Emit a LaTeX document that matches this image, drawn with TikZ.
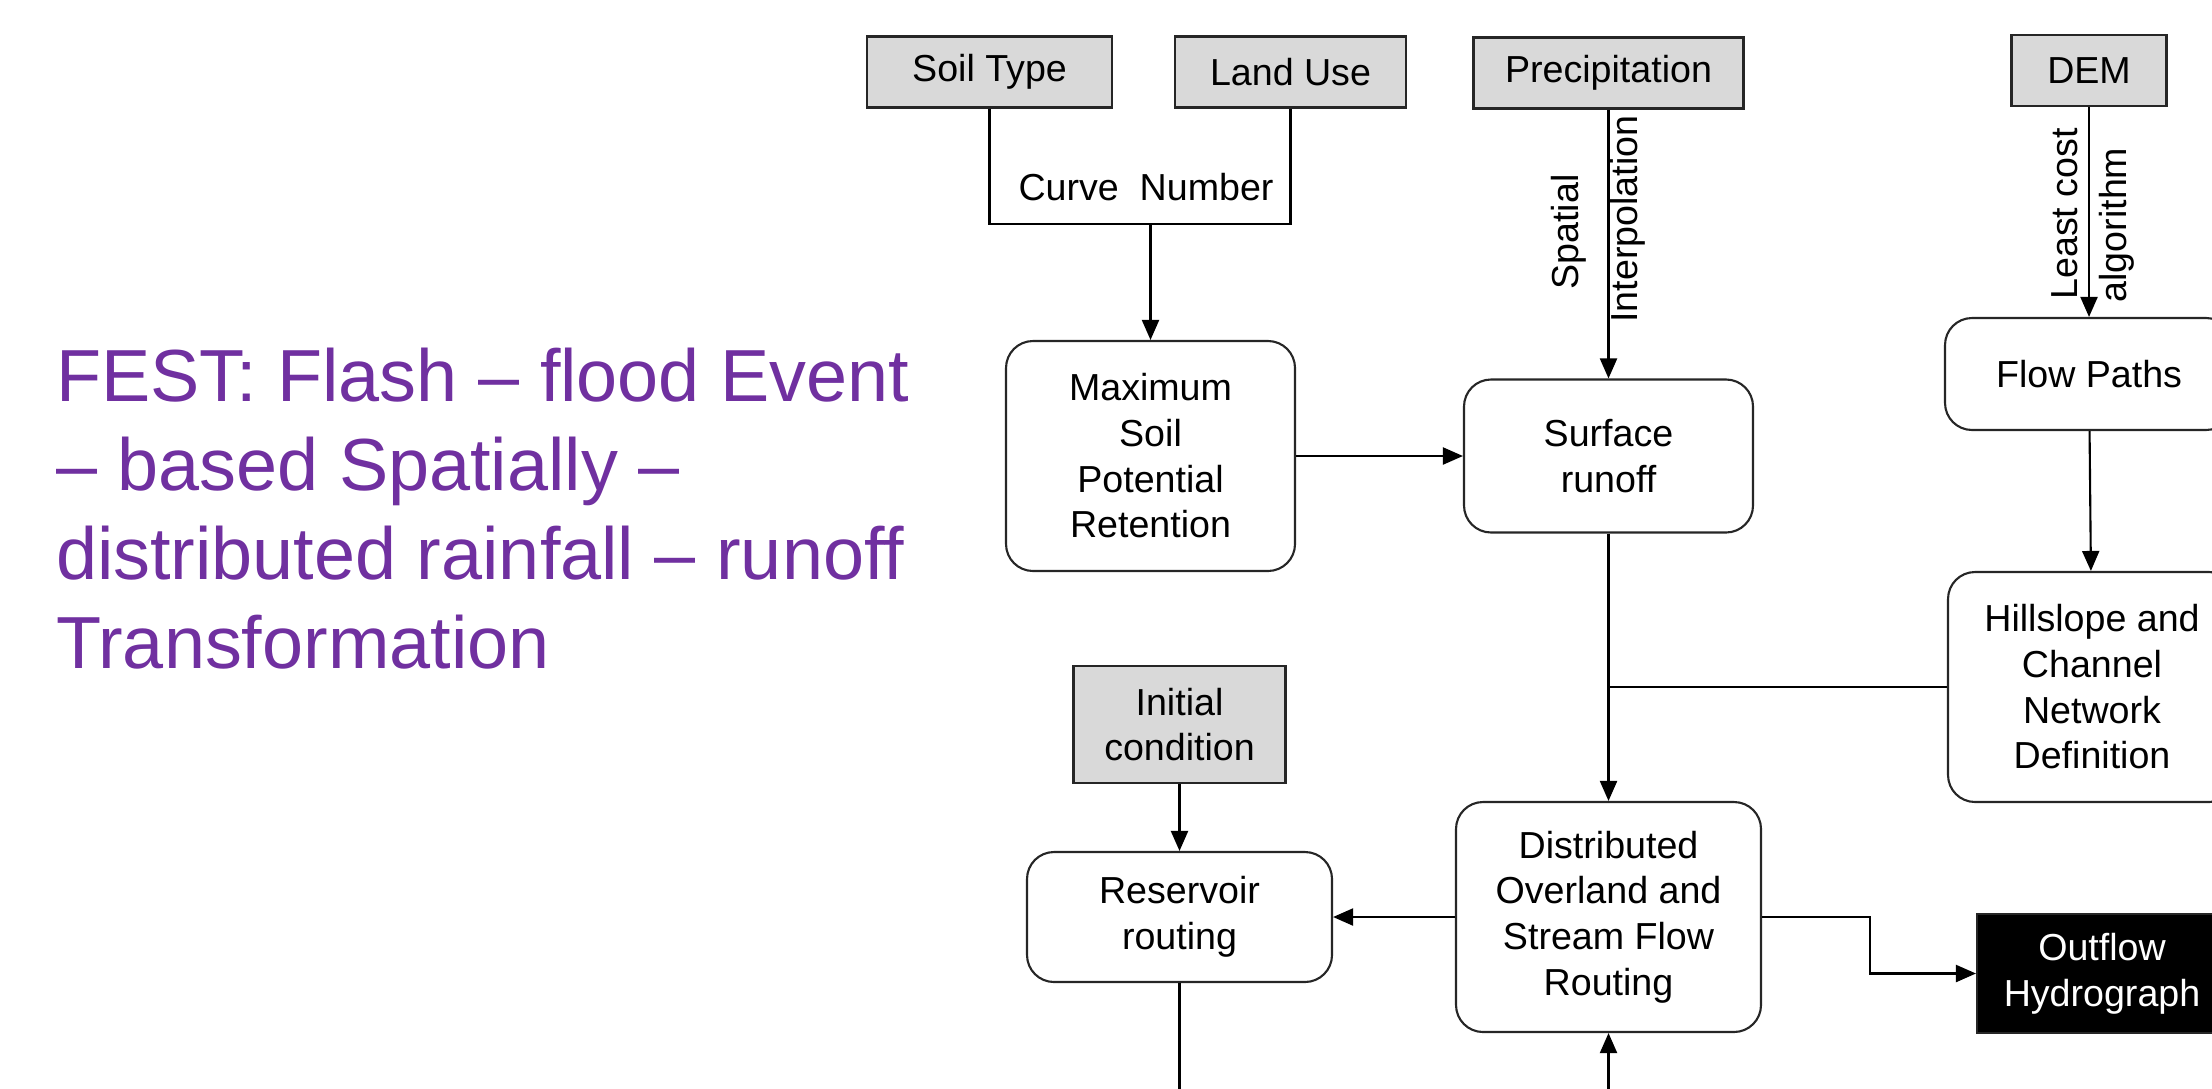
\documentclass[tikz,border=0pt]{standalone}
\usepackage{fontspec}
\setmainfont{Liberation Sans}
\usetikzlibrary{arrows.meta,positioning}
\definecolor{TitlePurple}{HTML}{7030A0}
\definecolor{InputGray}{HTML}{D9D9D9}

\begin{document}
\begin{tikzpicture}[
    font=\fontsize{10.7}{13}\selectfont,
    line width=0.6pt,
    box/.style={draw=black!85, align=center, inner sep=2pt},
    input/.style={box, fill=InputGray, minimum height=0.71cm},
    proc/.style={box, rounded corners=0.27cm, fill=white},
    result/.style={box, fill=black, text=white},
    lbl/.style={inner sep=0pt},
    >={Triangle[length=2.0mm,width=1.7mm]}
  ]
  \clip (0,0) rectangle (22.12,-10.88);

  % Title
  \node[anchor=north west, align=left, inner sep=0pt, text=TitlePurple,
        font=\fontsize{21}{25.3}\selectfont] (title) at (0.55,-3.47)
  {FEST: Flash – flood Event\\– based Spatially –\\distributed rainfall – runoff\\Transformation};

  % Input data
  \node[input, minimum width=2.45cm] (soil) at (9.895,-0.72) {Soil Type};
  \node[input, minimum width=2.31cm] (land) at (12.905,-0.72) {Land Use};
  \node[input, minimum width=2.70cm] (precip) at (16.085,-0.73) {Precipitation};
  \node[input, minimum width=1.55cm] (dem) at (20.89,-0.705) {DEM};

  % Processing steps
  \node[proc, minimum width=2.89cm, minimum height=2.30cm] (retention) at (11.505,-4.56)
  {Maximum\\Soil\\Potential\\Retention};
  \node[proc, minimum width=2.89cm, minimum height=1.53cm] (runoff) at (16.085,-4.56)
  {Surface\\runoff};
  \node[proc, minimum width=2.88cm, minimum height=1.12cm] (paths) at (20.89,-3.74) {Flow Paths};
  \node[proc, minimum width=2.88cm, minimum height=2.30cm] (network) at (20.92,-6.87)
  {Hillslope and\\Channel\\Network\\Definition};
  \node[input, minimum width=2.12cm, minimum height=1.17cm] (initial) at (11.795,-7.245)
  {Initial\\condition};
  \node[proc, minimum width=3.05cm, minimum height=1.30cm] (reservoir) at (11.795,-9.17)
  {Reservoir\\routing};
  \node[proc, minimum width=3.05cm, minimum height=2.30cm] (routing) at (16.085,-9.17)
  {Distributed\\Overland and\\Stream Flow\\Routing};
  \node[result, minimum width=2.50cm, minimum height=1.19cm] (outflow) at (21.02,-9.735)
  {Outflow\\Hydrograph};

  % Curve number bracket
  \coordinate (cn) at (11.505,-2.24);
  \draw (soil.south) |- (cn) -| (land.south);
  \draw[->] (cn) -- (retention.north);
  \node[lbl, anchor=base] (cnlabel) at (11.46,-2.00) {Curve\ \ Number};

  % Arrow labels
  \node[lbl, rotate=90] (spatial) at (15.69,-2.32) {Spatial};
  \node[lbl, rotate=90] (interp) at (16.28,-2.19) {Interpolation};
  \node[lbl, rotate=90] (leastcost) at (20.65,-2.14) {Least cost};
  \node[lbl, rotate=90] (algo) at (21.17,-2.25) {algorithm};

  % Connectors
  \draw[->] (precip) -- (runoff);
  \draw[->] (dem) -- (paths);
  \draw[->] (paths) -- (network);
  \draw[->] (retention) -- (runoff);
  \draw[->] (runoff) -- (routing);
  \coordinate (join) at (runoff.south |- network.west);
  \draw (network.west) -- (join);
  \draw[->] (initial) -- (reservoir);
  \draw[->] (routing) -- (reservoir);
  \coordinate (bend) at (18.70,-9.735);
  \draw[->] (routing.east) -| (bend) -- (outflow.west);
  \coordinate (resout) at (11.795,-11.2);
  \draw (reservoir.south) -- (resout);
  \coordinate (routin) at (16.085,-11.2);
  \draw[->] (routin) -- (routing.south);
\end{tikzpicture}
\end{document}
